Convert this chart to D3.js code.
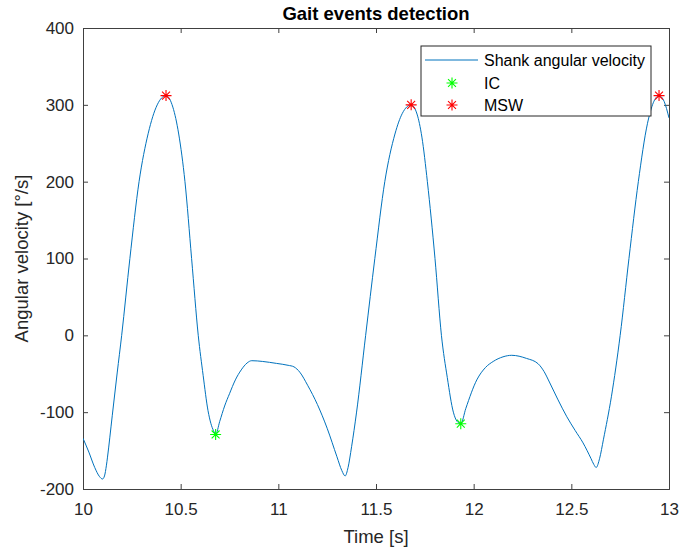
<!DOCTYPE html>
<html lang="en">
<head>
    <meta charset="utf-8">
    <title>Gait events detection</title>
    <style>
        body {
            margin: 0;
            background: #fff;
            font-family: "Liberation Sans", Arial, sans-serif;
        }
        .axis path, .axis line {
            stroke: #404040;
        }
        .axis text {
            fill: #262626;
            font-size: 17px;
        }
    </style>
</head>
<body>
    <script src="https://d3js.org/d3.v7.min.js"></script>
    <script>
    // Shank angular velocity
    var timeS = [10.00, 10.03, 10.06, 10.085, 10.10, 10.11, 10.12, 10.125, 10.15, 10.175,
                 10.198, 10.24, 10.287, 10.334, 10.38, 10.425, 10.46, 10.49, 10.522, 10.556,
                 10.59, 10.615, 10.64, 10.655, 10.668, 10.679, 10.70, 10.725, 10.75, 10.78,
                 10.81, 10.84, 10.864, 10.92, 10.99, 11.05, 11.08, 11.11, 11.15, 11.20,
                 11.25, 11.30, 11.325, 11.342, 11.357, 11.375, 11.40, 11.447, 11.494, 11.545,
                 11.597, 11.635, 11.68, 11.71, 11.735, 11.763, 11.802, 11.835, 11.865, 11.896,
                 11.915, 11.934, 11.96, 12.016, 12.06, 12.10, 12.15, 12.195, 12.27, 12.33,
                 12.36, 12.39, 12.43, 12.477, 12.52, 12.56, 12.60, 12.615, 12.627, 12.645,
                 12.664, 12.705, 12.75, 12.795, 12.843, 12.89, 12.949, 12.975, 13.00];
    var angVel = [-134, -152, -172, -184, -187, -183, -169, -159.5, -104, -49,
                  0, 100, 200, 263, 300, 312, 297, 262, 200, 100,
                  0, -52, -98, -115, -124, -129, -112, -92, -76, -58,
                  -45, -36, -33, -34, -36.5, -39, -41, -48, -65, -90,
                  -121, -158, -176, -183, -172, -145, -101, 0, 100, 200,
                  262, 289, 300, 288, 258, 200, 100, 0, -55, -100,
                  -112, -115, -95, -58, -42, -34, -28, -26, -30, -37,
                  -47, -62, -83, -106, -124, -140, -160, -168, -172, -160,
                  -136, -80, 0, 100, 200, 276, 312, 304.5, 283];

    // detected events
    var icTime = [10.679, 11.934];
    var icVel = [-129, -115];
    var mswTime = [10.425, 11.68, 12.949];
    var mswVel = [312, 300, 312];

    var xTicks = [10, 10.5, 11, 11.5, 12, 12.5, 13];
    var yTicks = [-200, -100, 0, 100, 200, 300, 400];
    var legendLabels = ["Shank angular velocity", "IC", "MSW"];

    var w = 681, h = 553;
    var margin = {top: 28, right: 12, bottom: 64, left: 83};

    var lineColor = "#0072BD";
    var icColor = "#00FF00";
    var mswColor = "#FF0000";

    var svg = d3.select("body").append("svg")
        .attr("width", w)
        .attr("height", h);

    svg.append("rect").attr("width", w).attr("height", h).attr("fill", "#fff");

    var x = d3.scaleLinear().domain([10, 13]).range([margin.left, w - margin.right]);
    var y = d3.scaleLinear().domain([-200, 400]).range([h - margin.bottom, margin.top]);

    var plain = function(d) { return String(d); };

    // axes with inward ticks, box on
    svg.append("g").attr("class", "axis")
        .attr("transform", `translate(0,${h - margin.bottom})`)
        .call(d3.axisBottom(x).tickValues(xTicks).tickSize(-5).tickPadding(14).tickFormat(plain));
    svg.append("g").attr("class", "axis")
        .attr("transform", `translate(${margin.left},0)`)
        .call(d3.axisLeft(y).tickValues(yTicks).tickSize(-5).tickPadding(9).tickFormat(plain));
    svg.append("g").attr("class", "axis")
        .attr("transform", `translate(0,${margin.top})`)
        .call(d3.axisTop(x).tickValues(xTicks).tickSize(-5).tickFormat(""));
    svg.append("g").attr("class", "axis")
        .attr("transform", `translate(${w - margin.right},0)`)
        .call(d3.axisRight(y).tickValues(yTicks).tickSize(-5).tickFormat(""));

    svg.append("clipPath").attr("id", "plotArea")
        .append("rect")
        .attr("x", margin.left).attr("y", margin.top)
        .attr("width", w - margin.left - margin.right)
        .attr("height", h - margin.top - margin.bottom);

    var series = timeS.map(function(t, i) { return [t, angVel[i]]; });

    var line = d3.line()
        .x(function(d) { return x(d[0]); })
        .y(function(d) { return y(d[1]); })
        .curve(d3.curveMonotoneX);

    var plot = svg.append("g").attr("clip-path", "url(#plotArea)");

    plot.append("path")
        .datum(series)
        .attr("fill", "none")
        .attr("stroke", lineColor)
        .attr("stroke-width", 1)
        .attr("d", line);

    // MATLAB style asterisk marker
    function star(r) {
        var d = r * 0.72;
        return `M${-r},0H${r}M0,${-r}V${r}M${-d},${-d}L${d},${d}M${-d},${d}L${d},${-d}`;
    }

    svg.append("g").selectAll("path")
        .data(icTime.map(function(t, i) { return [t, icVel[i]]; }))
        .enter().append("path")
        .attr("transform", function(d) { return `translate(${x(d[0])},${y(d[1])})`; })
        .attr("d", star(5.5))
        .attr("stroke", icColor)
        .attr("stroke-width", 1.1)
        .attr("fill", "none");

    svg.append("g").selectAll("path")
        .data(mswTime.map(function(t, i) { return [t, mswVel[i]]; }))
        .enter().append("path")
        .attr("transform", function(d) { return `translate(${x(d[0])},${y(d[1])})`; })
        .attr("d", star(5.5))
        .attr("stroke", mswColor)
        .attr("stroke-width", 1.1)
        .attr("fill", "none");

    // legend
    var legend = svg.append("g").attr("transform", "translate(421,46)");
    legend.append("rect")
        .attr("width", 230).attr("height", 70)
        .attr("fill", "#fff")
        .attr("stroke", "#262626")
        .attr("stroke-width", 1);

    var rowY = [14, 37, 59];
    legend.append("line")
        .attr("x1", 4).attr("x2", 57)
        .attr("y1", rowY[0]).attr("y2", rowY[0])
        .attr("stroke", lineColor).attr("stroke-width", 1);
    legend.append("path")
        .attr("transform", `translate(31,${rowY[1]})`)
        .attr("d", star(5.5)).attr("stroke", icColor).attr("stroke-width", 1.1);
    legend.append("path")
        .attr("transform", `translate(31,${rowY[2]})`)
        .attr("d", star(5.5)).attr("stroke", mswColor).attr("stroke-width", 1.1);

    legend.selectAll("text")
        .data(legendLabels)
        .enter().append("text")
        .attr("x", 63)
        .attr("y", function(d, i) { return rowY[i]; })
        .attr("dy", "0.35em")
        .attr("font-size", "16px")
        .attr("fill", "#000")
        .text(function(d) { return d; });

    // title and axis labels
    var cx = (margin.left + w - margin.right) / 2;
    svg.append("text")
        .attr("x", cx).attr("y", 20)
        .attr("text-anchor", "middle")
        .attr("font-size", "18.5px")
        .attr("font-weight", "bold")
        .attr("fill", "#000")
        .text("Gait events detection");

    svg.append("text")
        .attr("x", cx).attr("y", 543)
        .attr("text-anchor", "middle")
        .attr("font-size", "18.5px")
        .attr("fill", "#262626")
        .text("Time [s]");

    svg.append("text")
        .attr("transform", `translate(28,${(margin.top + h - margin.bottom) / 2}) rotate(-90)`)
        .attr("text-anchor", "middle")
        .attr("font-size", "18.5px")
        .attr("fill", "#262626")
        .text("Angular velocity [°/s]");
    </script>
</body>
</html>
